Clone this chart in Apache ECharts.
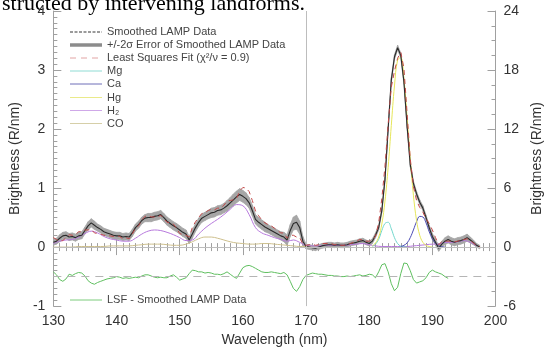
<!DOCTYPE html>
<html><head><meta charset="utf-8">
<script src="https://cdn.jsdelivr.net/npm/echarts@6/dist/echarts.min.js"></script>
<style>html,body{margin:0;padding:0;background:#fff}#c{width:552px;height:352px}</style>
</head><body><div id="c"></div>
<script>
// ---- wavelength grid for the LAMP spectrum (nm) ----
const wlStart = 130, wlStep = 0.5;

// Smoothed LAMP data (R/nm), 130.0 .. 197.5 every 0.5 nm
const smoothedData = [
 0.08,0.10,0.15,0.19,0.20,0.17,0.18,0.16,0.19,0.20,
 0.28,0.36,0.41,0.37,0.33,0.30,0.26,0.24,0.22,0.20,
 0.19,0.19,0.17,0.18,0.17,0.24,0.33,0.38,0.45,0.49,
 0.50,0.50,0.52,0.53,0.55,0.50,0.44,0.40,0.36,0.33,
 0.29,0.25,0.22,0.12,0.22,0.33,0.42,0.49,0.52,0.55,
 0.58,0.59,0.62,0.63,0.66,0.70,0.75,0.80,0.85,0.89,
 0.86,0.82,0.75,0.62,0.47,0.42,0.38,0.34,0.31,0.28,
 0.25,0.22,0.19,0.17,0.12,0.28,0.40,0.42,0.33,0.10,
 0.01,0.00,-0.01,-0.02,0.00,0.02,0.03,0.04,0.04,0.03,
 0.04,0.03,0.03,0.04,0.06,0.07,0.08,0.10,0.11,0.08,
 0.06,0.10,0.20,0.33,0.62,1.15,2.00,2.83,3.22,3.38,
 3.25,2.80,2.05,1.40,1.08,0.90,0.76,0.66,0.50,0.33,
 0.18,0.08,-0.02,0.05,0.10,0.13,0.10,0.08,0.10,0.11,
 0.13,0.16,0.12,0.08,0.03,0.00
];

// 2-sigma half width of the smoothed data
const errorHalf = [
 0.05,0.05,0.06,0.06,0.06,0.06,0.06,0.06,0.06,0.06,
 0.06,0.07,0.07,0.07,0.06,0.06,0.06,0.06,0.06,0.06,
 0.06,0.06,0.06,0.06,0.06,0.06,0.06,0.06,0.06,0.06,
 0.07,0.07,0.07,0.07,0.07,0.07,0.07,0.07,0.07,0.07,
 0.07,0.07,0.07,0.06,0.07,0.07,0.07,0.07,0.07,0.07,
 0.08,0.08,0.08,0.08,0.08,0.09,0.09,0.10,0.10,0.10,
 0.10,0.10,0.09,0.09,0.08,0.08,0.08,0.08,0.07,0.07,
 0.07,0.07,0.07,0.08,0.09,0.10,0.11,0.12,0.11,0.08,
 0.04,0.04,0.04,0.04,0.04,0.04,0.04,0.04,0.04,0.04,
 0.04,0.04,0.04,0.04,0.04,0.04,0.04,0.04,0.04,0.04,
 0.04,0.04,0.04,0.04,0.04,0.04,0.04,0.04,0.04,0.04,
 0.04,0.04,0.04,0.04,0.04,0.04,0.04,0.04,0.04,0.04,
 0.05,0.05,0.05,0.05,0.06,0.06,0.06,0.06,0.06,0.06,
 0.06,0.06,0.05,0.04,0.03,0.03
];

// Least squares fit, same grid
const lsfFit = [
 0.16,0.13,0.10,0.11,0.16,0.21,0.20,0.21,0.26,0.26,
 0.29,0.29,0.30,0.24,0.23,0.22,0.20,0.20,0.19,0.18,
 0.19,0.18,0.14,0.16,0.14,0.22,0.32,0.36,0.46,0.52,
 0.53,0.51,0.51,0.51,0.54,0.48,0.42,0.41,0.39,0.32,
 0.23,0.21,0.20,0.17,0.33,0.43,0.50,0.57,0.58,0.62,
 0.64,0.63,0.66,0.66,0.71,0.78,0.79,0.80,0.82,0.95,
 1.01,1.00,0.94,0.79,0.61,0.53,0.46,0.41,0.38,0.36,
 0.32,0.28,0.24,0.24,0.15,0.20,0.20,0.17,0.16,0.05,
 0.03,0.04,0.05,0.03,0.04,0.06,0.06,0.06,0.06,0.04,
 0.05,0.03,0.03,0.05,0.06,0.08,0.10,0.13,0.12,0.10,
 0.10,0.13,0.18,0.41,0.82,1.37,2.08,2.71,2.98,3.20,
 3.30,3.03,2.27,1.50,1.03,0.79,0.67,0.59,0.48,0.40,
 0.29,0.16,0.04,0.09,0.10,0.10,0.10,0.09,0.10,0.12,
 0.13,0.14,0.11,0.07,0.03,0.01
];

// LSF - smoothed data, 130.0 .. 192.5 every 0.5 nm (drawn offset)
const residual = [
 0.08,0.03,-0.05,-0.08,-0.04,0.04,0.02,0.05,0.07,0.06,
 0.01,-0.07,-0.11,-0.13,-0.10,-0.08,-0.06,-0.04,-0.03,-0.02,
 0.00,-0.01,-0.03,-0.02,-0.03,-0.02,-0.01,-0.02,0.01,0.03,
 0.03,0.01,-0.01,-0.02,-0.01,-0.02,-0.02,0.01,0.03,-0.01,
 -0.06,-0.04,-0.02,0.05,0.11,0.10,0.08,0.08,0.06,0.07,
 0.06,0.04,0.04,0.03,0.05,0.08,0.04,0.00,-0.03,0.06,
 0.15,0.18,0.19,0.17,0.14,0.11,0.08,0.07,0.07,0.08,
 0.07,0.06,0.05,0.07,0.03,-0.08,-0.20,-0.25,-0.17,-0.05,
 0.02,0.04,0.06,0.05,0.04,0.04,0.03,0.02,0.02,0.01,
 0.01,0.00,0.00,0.01,0.00,0.01,0.02,0.03,0.01,0.02,
 0.04,0.03,-0.02,0.08,0.20,0.22,0.08,-0.12,-0.24,-0.18,
 0.05,0.23,0.22,0.10,-0.05,-0.11,-0.09,-0.07,-0.02,0.07,
 0.11,0.08,0.06,0.04,0.00,-0.03
];
const residualOffset = -0.5;

// Fit components
const h2Start = 130, h2Step = 1;
const h2Comp = [0.06,0.10,0.12,0.13,0.17,0.23,0.27,0.24,0.18,0.14,
 0.12,0.10,0.10,0.15,0.22,0.27,0.29,0.28,0.25,0.21,
 0.16,0.11,0.12,0.22,0.32,0.40,0.47,0.55,0.64,0.72,
 0.70,0.55,0.33,0.24,0.20,0.16,0.13,0.10,0.12,0.08,
 0.03,0.02,0.02,0.03,0.03,0.03,0.03,0.04,0.05,0.06,
 0.04,0.02,0.01,0.01,0.01,0.01,0.01,0.02,0.03,0.04,
 0.05,0.05,0.08,0.08,0.09,0.11,0.08,0.02];
const coStart = 130, coStep = 1;
const coComp = [0.00,0.00,0.00,0.00,0.01,0.01,0.01,0.01,0.01,0.02,
 0.02,0.02,0.02,0.03,0.04,0.05,0.05,0.05,0.04,0.03,
 0.03,0.05,0.09,0.14,0.17,0.17,0.15,0.12,0.09,0.07,
 0.06,0.05,0.05,0.06,0.06,0.05,0.04,0.03,0.02,0.01,
 0.01,0.00];
const mgStart = 180.5, mgStep = 0.5;
const mgComp = [0.01,0.05,0.13,0.28,0.40,0.42,0.31,0.16,0.06,0.015,0.003,0.00];
const caStart = 185, caStep = 0.5;
const caComp = [0.01,0.03,0.07,0.16,0.29,0.43,0.52,0.51,0.41,0.26,0.14,0.06,0.02,0.006,0.00];
const hgStart = 180.5, hgStep = 0.5;
const hgComp = [0.02,0.07,0.17,0.39,0.78,1.35,2.06,2.73,3.17,3.21,2.85,2.20,1.49,0.88,0.45,0.20,0.08,0.03,0.01,0.00];

const xTickMin = 130, xTickMax = 200, xTickStep = 10;
const yLeftMin = -1, yLeftMax = 4, yLeftStep = 1;
const yRightMin = -6, yRightMax = 24, yRightStep = 6;

// ---- build pairs ----
function pairs(start, step, vals, offset) {
  return vals.map((v, i) => [start + i * step, v + (offset || 0)]);
}
const bandData = [];
for (let i = 0; i < smoothedData.length - 1; i++) {
  const x0 = wlStart + i * wlStep, x1 = wlStart + (i + 1) * wlStep;
  bandData.push([x0, smoothedData[i] - errorHalf[i], smoothedData[i] + errorHalf[i],
                 x1, smoothedData[i+1] - errorHalf[i+1], smoothedData[i+1] + errorHalf[i+1]]);
}

const FONT = 'Liberation Sans, Arial, sans-serif';
const AX = '#a0a0a0';
const TXT = '#333';

const chart = echarts.init(document.getElementById('c'), null, {renderer: 'canvas'});

const legendRows = [
  {y: 32, name: 'Smoothed LAMP Data', color: '#7a7a7a', w: 1.4, dash: [3, 1.5]},
  {y: 45, name: '+/-2σ Error of Smoothed LAMP Data', color: '#8c8c8c', w: 3.5, dash: null},
  {y: 58, name: 'Least Squares Fit (χ²/ν = 0.9)', color: '#e2a4a4', w: 1, dash: [6, 5]},
  {y: 71, name: 'Mg', color: '#8fdcd4', w: 1, dash: null},
  {y: 84, name: 'Ca', color: '#6f6fb8', w: 1, dash: null},
  {y: 97.5, name: 'Hg', color: '#eaea8a', w: 1, dash: null},
  {y: 110.5, name: 'H₂', color: '#cfa8e8', w: 1, dash: null},
  {y: 123.5, name: 'CO', color: '#d6cfa8', w: 1, dash: null},
  {y: 300, name: 'LSF - Smoothed LAMP Data', color: '#7ccc7c', w: 1, dash: null}
];
const graphics = [{
  type: 'text', left: 2, top: -7, silent: true,
  style: {text: 'structed by intervening landforms.', font: '22px "Liberation Serif", "Times New Roman", serif', fill: '#000'}
}];
legendRows.forEach(r => {
  graphics.push({type: 'line', silent: true, shape: {x1: 70, y1: r.y, x2: 102, y2: r.y},
    style: {stroke: r.color, lineWidth: r.w, lineDash: r.dash || null}});
  graphics.push({type: 'text', silent: true, x: 107, y: r.y,
    style: {text: r.name, font: '11px ' + FONT, fill: '#444', verticalAlign: 'middle', align: 'left'}});
});

function lineSeries(name, data, color, width, extra) {
  return Object.assign({
    name, type: 'line', data, symbol: 'none', smooth: false,
    lineStyle: {color, width}, itemStyle: {color}, silent: true, clip: true, z: 3
  }, extra || {});
}

const xBase = {
  type: 'value', min: xTickMin, max: xTickMax, interval: xTickStep,
  axisLine: {lineStyle: {color: AX}}, splitLine: {show: false},
  axisTick: {inside: true, length: 8, lineStyle: {color: AX}},
  minorTick: {show: true, splitNumber: 10, length: 4, lineStyle: {color: AX}},
};

chart.setOption({
  animation: false,
  grid: {left: 51, right: 39, top: 11, bottom: 39, containLabel: false},
  xAxis: [
    Object.assign({}, xBase, {position: 'bottom',
      axisLabel: {color: TXT, fontSize: 14, fontFamily: FONT, margin: 8},
      name: 'Wavelength (nm)', nameLocation: 'middle', nameGap: 24,
      nameTextStyle: {color: TXT, fontSize: 14, fontFamily: FONT}}),
    Object.assign({}, xBase, {position: 'top', axisLabel: {show: false}})
  ],
  yAxis: [
    {type: 'value', min: yLeftMin, max: yLeftMax, interval: yLeftStep, position: 'left',
     axisLine: {show: true, lineStyle: {color: AX}}, splitLine: {show: false},
     axisTick: {show: true, inside: true, length: 8, lineStyle: {color: AX}},
     minorTick: {show: true, splitNumber: 10, length: 4, lineStyle: {color: AX}},
     axisLabel: {color: TXT, fontSize: 14, fontFamily: FONT, margin: 8},
     name: 'Brightness (R/nm)', nameLocation: 'middle', nameGap: 15, nameRotate: 90,
     nameTextStyle: {color: TXT, fontSize: 14, fontFamily: FONT}},
    {type: 'value', min: yRightMin, max: yRightMax, interval: yRightStep, position: 'right',
     axisLine: {show: true, lineStyle: {color: AX}}, splitLine: {show: false},
     axisTick: {show: true, inside: true, length: 8, lineStyle: {color: AX}},
     minorTick: {show: true, splitNumber: 4, length: 4, lineStyle: {color: AX}},
     axisLabel: {color: TXT, fontSize: 14, fontFamily: FONT, margin: 8},
     name: 'Brightness (R/nm)', nameLocation: 'middle', nameGap: 22, nameRotate: 90,
     nameTextStyle: {color: TXT, fontSize: 14, fontFamily: FONT}}
  ],
  graphic: graphics,
  series: [
    {
      name: '+/-2σ Error of Smoothed LAMP Data', type: 'custom', data: bandData, clip: true, silent: true, z: 2,
      encode: {x: [0, 3], y: [1, 2, 4, 5]},
      renderItem: function (params, api) {
        const a = api.coord([api.value(0), api.value(1)]);
        const b = api.coord([api.value(3), api.value(4)]);
        const c = api.coord([api.value(3), api.value(5)]);
        const d = api.coord([api.value(0), api.value(2)]);
        return {type: 'polygon', shape: {points: [a, b, c, d]},
          style: {fill: '#a6a6a6', stroke: '#a6a6a6', lineWidth: 0.8}};
      }
    },
    lineSeries('CO', pairs(coStart, coStep, coComp), '#cdbf8c', 1, {smooth: 0.4}),
    lineSeries('H₂', pairs(h2Start, h2Step, h2Comp), '#b678dc', 1, {smooth: 0.4}),
    lineSeries('Mg', pairs(mgStart, mgStep, mgComp), '#6fd6cc', 1, {smooth: 0.4}),
    lineSeries('Ca', pairs(caStart, caStep, caComp), '#4a4ab4', 1, {smooth: 0.4}),
    lineSeries('Hg', pairs(hgStart, hgStep, hgComp), '#e6e65a', 1, {smooth: 0.4}),
    lineSeries('Smoothed LAMP Data', pairs(wlStart, wlStep, smoothedData), '#2a2a2a', 1.1, {
      z: 4,
      markLine: {silent: true, symbol: 'none', label: {show: false}, animation: false,
        lineStyle: {color: '#bdbdbd', width: 1, type: 'solid'},
        data: [{xAxis: 170}, {yAxis: 0}]}
    }),
    lineSeries('Least Squares Fit', pairs(wlStart, wlStep, lsfFit), '#c24848', 1, {
      z: 5, lineStyle: {color: '#c24848', width: 1, type: [5, 4]}
    }),
    lineSeries('LSF - Smoothed LAMP Data', pairs(wlStart, wlStep, residual, residualOffset), '#5fbf5f', 1, {
      z: 4,
      markLine: {silent: true, symbol: 'none', label: {show: false}, animation: false,
        lineStyle: {color: '#b5b5b5', width: 1, type: [8, 6]},
        data: [{yAxis: residualOffset}]}
    })
  ]
});
</script></body></html>
